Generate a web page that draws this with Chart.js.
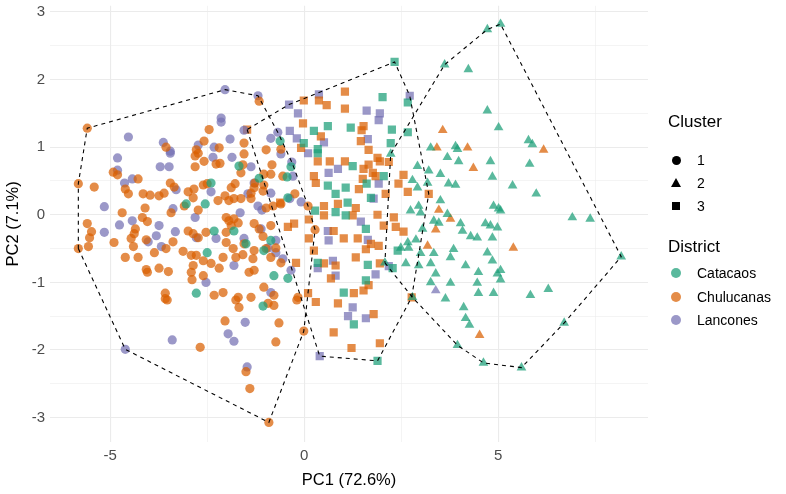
<!DOCTYPE html>
<html>
<head>
<meta charset="utf-8">
<script src="https://cdn.jsdelivr.net/npm/chart.js@4.4.1/dist/chart.umd.min.js"></script>
<style>
  html, body { margin: 0; padding: 0; background: #fff; }
  #wrap { position: relative; width: 786px; height: 494px; font-family: "Liberation Sans", Arial, sans-serif; }
  #chart { position: absolute; left: 0; top: 0; }
  .lg-title { position: absolute; left: 668px; font-size: 17px; color: #000; line-height: 20px; }
  .lg-item { position: absolute; left: 697px; font-size: 14px; color: #000; line-height: 16px; }
  .key { position: absolute; }
</style>
</head>
<body>
<div id="wrap">
  <canvas id="chart" width="786" height="494"></canvas>
  <div id="legend"></div>
</div>
<script>
// axis ticks
const xTicks = [-5, -2.5, 0, 2.5, 5, 7.5];
const xLabels = [-5, 0, 5];
const yTicks = [-3, -2.5, -2, -1.5, -1, -0.5, 0, 0.5, 1, 1.5, 2, 2.5, 3];
const yLabels = [-3, -2, -1, 0, 1, 2, 3];

const clusters = ['1', '2', '3'];
const districts = ['Catacaos', 'Chulucanas', 'Lancones'];

// [PC1, PC2] per cluster / district
const c1Catacaos = [[-0.62,1.09],[-3.04,0.16],[-2.78,-1.16],[-1.68,0.72],[-0.34,0.71],[-0.44,0.56],[-2.40,0.47],[-1.16,0.54],[-2.55,0.16],[-0.42,0.25],[-2.32,-0.24],[-1.81,-0.24],[-1.50,-0.43],[-2.50,-0.56],[-1.04,-0.53],[-0.86,-0.38],[-0.78,-0.90],[-0.42,-0.94],[-1.06,-1.35]];
const c1Chulucanas = [[-5.59,1.28],[-3.56,1.00],[-2.78,0.96],[-1.16,1.68],[-2.45,1.26],[-2.58,1.09],[-2.19,0.99],[-1.55,1.06],[-0.98,0.96],[-0.60,0.97],
  [-4.92,0.63],[-4.81,0.59],[-5.82,0.46],[-5.41,0.41],[-4.28,0.53],[-4.61,0.38],[-4.53,0.31],[-4.15,0.31],[-3.97,0.29],[-3.74,0.28],
  [-3.61,0.32],[-4.69,0.03],[-4.10,0.10],[-5.59,-0.13],[-5.48,-0.25],[-5.53,-0.34],[-5.56,-0.47],[-5.82,-0.50],[-4.90,-0.41],[-4.17,-0.04],
  [-4.04,-0.10],[-4.35,-0.21],[-4.38,-0.28],[-4.46,-0.35],[-4.40,-0.47],[-4.07,-0.37],[-3.56,-0.50],[-3.86,-0.56],[-3.38,-0.40],[-4.61,-0.63],
  [-4.28,-0.63],[-4.07,-0.81],[-4.04,-0.85],[-3.74,-0.79],[-3.50,-0.84],[-3.12,-0.54],[-3.58,-1.16],[-3.58,-1.24],[-2.89,-0.96],[-2.91,-0.85],
  [-2.86,-0.75],[-2.91,-0.60],[-2.78,-0.60],[-2.99,-0.24],[-2.86,-0.28],[-2.73,-0.34],[-3.45,0.47],[-3.35,0.41],[-3.43,0.03],[-3.09,0.13],
  [-2.86,0.25],[-2.99,0.34],[-2.84,0.38],[-2.81,0.87],[-2.73,0.91],[-2.81,0.71],[-2.73,0.07],
  [-2.58,0.79],[-2.27,0.75],[-2.17,0.76],[-1.55,0.90],[-1.58,0.74],[-1.63,0.62],[-0.83,0.74],[-1.04,0.60],[-0.86,0.60],[-0.55,0.57],
  [-2.50,0.46],[-2.60,0.44],[-1.88,0.40],[-1.78,0.46],[-1.27,0.47],[-1.04,0.44],[-1.06,0.35],[-1.29,0.40],[-1.37,0.32],
  [-2.22,0.21],[-2.04,0.28],[-1.94,0.21],[-1.81,0.24],[-1.63,0.24],[-1.37,0.24],[-0.98,0.10],[-0.80,0.13],[-0.60,0.16],[-0.24,0.31],
  [-2.01,-0.04],[-1.94,-0.09],[-1.81,-0.06],[-1.88,-0.16],[-1.70,-0.12],[-2.53,-0.26],[-2.01,-0.26],[-1.29,-0.13],[-1.16,-0.21],[-1.06,-0.32],
  [-0.86,-0.16],[-1.55,-0.43],[-2.01,-0.41],[-1.83,-0.50],[-2.60,-0.68],[-2.40,-0.72],[-2.09,-0.63],[-1.76,-0.63],[-1.58,-0.59],[-1.32,-0.65],
  [-1.29,-0.53],[-0.98,-0.50],[-0.73,-0.49],[-0.86,-0.63],[-0.60,-0.71],[-2.19,-0.79],[-1.42,-0.85],[-1.29,-0.82],[-1.04,-1.07],[-0.78,-1.19],
  [-2.32,-1.19],[-2.09,-1.15],[-1.70,-1.22],[-1.37,-1.22],[-2.60,-0.90],[-0.16,-1.22],[0.10,0.13],[0.28,-0.22],
  [-3.53,-1.26],[-2.68,-1.96],[-1.76,-1.26],[-1.68,-1.37],[-0.93,-1.31],[-0.78,-1.34],[-0.19,-1.26],[-2.04,-1.57],[-0.65,-1.60],[-0.73,-1.88],
  [-0.01,-1.72],[-1.50,-2.32],[-1.40,-2.57],[-0.91,-3.07]];
const c1Lancones = [[-4.53,1.15],[-3.63,1.07],[-3.45,0.94],[-2.73,1.03],[-2.04,1.85],[-1.19,1.76],[-2.14,1.43],[-2.14,1.37],[-1.91,1.12],[-2.32,1.00],
  [-1.55,1.25],[-0.86,1.13],[-0.68,1.22],[-4.81,0.84],[-4.81,0.66],[-4.43,0.53],[-4.63,0.47],[-5.15,0.12],[-4.76,-0.15],[-5.15,-0.26],
  [-4.43,-0.09],[-3.74,-0.16],[-3.81,-0.31],[-4.02,-0.40],[-3.68,-0.47],[-3.32,-0.25],[-3.30,0.37],[-3.38,0.09],[-3.71,0.71],[-3.48,0.71],
  [-3.45,0.91],[-2.78,-0.34],[-2.81,-0.04],
  [-2.35,0.85],[-1.86,0.85],[-1.37,0.71],[-0.60,0.90],[-0.32,0.78],[-0.29,0.57],[-2.40,0.34],[-1.29,0.47],[-0.86,0.32],[-1.45,0.31],
  [-1.19,0.13],[-1.09,0.07],[-1.65,0.03],[-0.37,0.24],[-0.08,0.19],[-2.27,-0.35],[-1.11,-0.21],[-1.55,-0.35],[-0.93,-0.49],[-0.73,-0.56],
  [-0.55,-0.65],[-0.73,-0.38],[-1.81,-0.75],[-0.34,-0.82],[-0.86,-1.15],[-2.53,-1.00],
  [-3.40,-1.85],[-4.61,-1.99],[-1.52,-1.59],[-1.96,-1.76],[-1.81,-1.87],[-1.47,-2.25]];

const c2Catacaos = [[3.62,2.22],[4.23,2.15],[4.72,2.74],[5.06,2.82],[4.72,1.54],[5.01,1.29],[3.26,0.99],[3.90,1.01],[3.95,0.97],[5.78,1.10],
  [5.88,1.04],[2.23,0.90],[2.92,0.72],[3.21,0.65],[3.51,0.60],[3.69,0.85],[3.98,0.79],[4.80,0.79],[4.85,0.56],[3.72,0.46],
  [3.90,0.44],[2.79,0.51],[2.92,0.40],[3.18,0.47],[3.51,0.21],[2.95,0.13],[3.00,0.03],[2.74,0.06],[3.69,0.01],[3.34,-0.09],
  [3.47,-0.12],[3.05,-0.21],[4.03,-0.13],[4.08,-0.24],[4.29,-0.32],[4.46,-0.34],[4.67,-0.13],[4.80,-0.16],[4.98,-0.19],[4.85,-0.34],
  [4.88,0.13],[5.01,0.09],[2.88,-0.37],[2.67,-0.41],[2.69,-0.49],[2.49,-0.49],[3.85,-0.51],[3.77,-0.63],[3.34,-0.57],[3.00,-0.57],
  [3.26,-0.72],[2.95,-0.75],[2.62,-0.72],[3.39,-0.87],[4.16,-0.75],[4.49,-0.85],[4.72,-0.56],[4.85,-0.68],[4.98,-0.87],[3.77,-1.01],
  [3.26,-1.00],[4.46,-1.01],[4.49,-1.16],[3.64,-1.24],[4.88,-1.16],[5.81,0.75],[5.37,0.43],[5.98,0.31],[5.06,0.06],[6.91,-0.04],
  [7.37,-0.06],[8.17,-0.62],[5.06,-0.82],[5.06,-0.96],[5.83,-1.19],[6.29,-1.10],[4.11,-1.37],[4.16,-1.53],[4.26,-1.63],[3.95,-1.93],
  [4.62,-2.19],[6.70,-1.60],[5.60,-2.26],[2.79,-1.22],[2.08,-0.71]];
const c2Chulucanas = [[3.57,1.25],[3.42,0.99],[4.21,0.99],[6.17,0.96],[4.36,0.69],[3.47,0.07],[3.77,-0.06],[3.39,-0.22],[3.18,-0.46],[5.39,-0.49],[4.52,-1.78]];
const c2Lancones = [[3.39,-1.12]];

const c3Catacaos = [[0.25,1.24],[0.61,1.31],[1.20,1.29],[-0.01,1.06],[0.35,0.97],[2.33,2.26],[2.02,1.74],[2.67,1.66],[2.26,1.26],[2.67,1.22],
  [2.23,1.06],[0.35,0.91],[0.61,0.43],[1.07,0.40],[0.81,0.31],[1.12,0.18],[0.28,0.06],[0.81,0.04],[1.07,-0.01],[1.02,-1.15],
  [0.35,-0.71],[1.25,0.72],[1.61,0.46],[2.05,0.57],[1.72,0.25],[1.59,-0.21],[2.41,-0.53],[1.64,-0.74],[2.28,-0.79],[1.59,-0.97],
  [1.28,-1.62],[1.89,-2.16]];
const c3Chulucanas = [[-0.01,1.69],[0.38,1.69],[0.58,1.62],[1.05,1.82],[1.05,1.57],[-0.03,1.35],[-1.47,1.26],[0.43,1.16],[-0.08,0.99],[1.53,1.31],
  [1.48,1.25],[1.46,1.09],[1.66,0.96],[0.35,0.79],[0.66,0.79],[1.05,0.79],[0.25,0.57],[0.30,0.47],[0.51,0.13],[0.87,0.16],
  [0.51,-0.01],[-0.62,0.18],[-0.26,-0.13],[-0.42,-0.18],[0.12,-0.35],[0.12,-0.07],[0.25,-0.53],[-0.21,-0.71],[1.02,-0.35],[0.76,-0.24],
  [0.81,-0.75],[0.51,-0.72],[0.69,-0.94],[0.10,-1.16],[1.53,0.68],[1.66,0.74],[1.77,0.62],[1.84,0.57],[1.95,0.79],[2.18,0.78],
  [1.89,0.84],[1.41,0.38],[1.51,0.53],[2.43,0.46],[2.56,0.59],[2.67,0.34],[2.10,0.31],[2.31,-0.04],[2.36,-0.18],[2.56,-0.25],
  [1.89,0.00],[2.05,-0.16],[1.33,0.10],[1.25,-0.01],[1.38,-0.35],[1.59,-0.51],[1.72,-0.43],[1.92,-0.46],[1.33,-0.63],[1.95,-0.72],
  [1.66,-1.04],[1.53,-1.12],[1.28,-1.16],[2.77,-1.22],[3.21,0.31],[1.79,-1.47],[1.95,-1.90],[0.30,-1.29],[0.87,-1.31],[0.76,-1.74],
  [1.22,-1.97]];
const c3Lancones = [[-0.39,1.63],[0.38,1.78],[-0.16,1.50],[-0.37,1.24],[-0.19,1.13],[0.51,1.07],[2.72,1.76],[1.61,1.54],[1.95,1.50],[1.92,1.40],
  [1.64,1.12],[0.10,0.91],[0.63,0.62],[0.87,0.68],[0.61,-0.24],[0.63,-0.38],[0.74,-0.68],[0.35,-0.79],[0.81,-0.90],[1.79,0.24],
  [1.92,0.46],[1.46,-0.10],[1.64,-0.37],[2.18,-0.76],[1.84,-0.88],[1.25,-1.37],[1.59,-1.53],[1.13,-1.50],[0.40,-2.09]];

const groups = [
  { cluster: '1', district: 'Catacaos', pts: c1Catacaos },
  { cluster: '1', district: 'Chulucanas', pts: c1Chulucanas },
  { cluster: '1', district: 'Lancones', pts: c1Lancones },
  { cluster: '2', district: 'Catacaos', pts: c2Catacaos },
  { cluster: '2', district: 'Chulucanas', pts: c2Chulucanas },
  { cluster: '2', district: 'Lancones', pts: c2Lancones },
  { cluster: '3', district: 'Catacaos', pts: c3Catacaos },
  { cluster: '3', district: 'Chulucanas', pts: c3Chulucanas },
  { cluster: '3', district: 'Lancones', pts: c3Lancones },
];

const fills = { Catacaos: 'rgba(27,158,119,0.72)', Chulucanas: 'rgba(217,95,2,0.72)', Lancones: 'rgba(117,112,179,0.72)' };
const shapes = { '1': 'circle', '2': 'triangle', '3': 'rect' };
const sizes = { '1': 4.6, '2': 5.6, '3': 5.8 };

// convex hull (monotone chain)
function hull(points) {
  const p = points.slice().sort((a, b) => a[0] - b[0] || a[1] - b[1]);
  const cross = (o, a, b) => (a[0] - o[0]) * (b[1] - o[1]) - (a[1] - o[1]) * (b[0] - o[0]);
  const lower = [];
  for (const q of p) {
    while (lower.length >= 2 && cross(lower[lower.length - 2], lower[lower.length - 1], q) <= 0) lower.pop();
    lower.push(q);
  }
  const upper = [];
  for (const q of p.slice().reverse()) {
    while (upper.length >= 2 && cross(upper[upper.length - 2], upper[upper.length - 1], q) <= 0) upper.pop();
    upper.push(q);
  }
  upper.pop();
  lower.pop();
  const h = lower.concat(upper);
  h.push(h[0]);
  return h;
}

const datasets = [];

// hull outlines first so they sit on top
clusters.forEach(c => {
  const pts = groups.filter(g => g.cluster === c).flatMap(g => g.pts);
  datasets.push({
    data: hull(pts).map(([x, y]) => ({ x, y })),
    showLine: true,
    borderColor: '#000',
    borderWidth: 1.1,
    borderDash: [4, 4],
    pointRadius: 0,
    fill: false,
  });
});

groups.forEach(g => {
  datasets.push({
    data: g.pts.map(([x, y]) => ({ x, y })),
    pointStyle: shapes[g.cluster],
    pointRadius: sizes[g.cluster],
    backgroundColor: fills[g.district],
    borderWidth: 0,
  });
});

const gridWidth = ctx => (ctx.tick && Math.abs(ctx.tick.value % 1) < 1e-9 && (ctx.scale.axis === 'y' || ctx.tick.value % 5 === 0)) ? 1.1 : 0.55;

new Chart(document.getElementById('chart'), {
  type: 'scatter',
  data: { datasets },
  options: {
    responsive: false,
    animation: false,
    layout: { padding: { left: 0, right: 138, top: 4, bottom: 0 } },
    plugins: { legend: { display: false }, tooltip: { enabled: false } },
    scales: {
      x: {
        type: 'linear',
        min: -6.55,
        max: 8.86,
        bounds: 'data',
        afterBuildTicks: s => { s.ticks = xTicks.map(v => ({ value: v })); },
        afterFit: s => { s.height = 52; s.paddingLeft = 0; s.paddingRight = 0; },
        ticks: {
          callback: v => xLabels.includes(v) ? String(v) : '',
          color: '#4d4d4d',
          font: { family: '"Liberation Sans", Arial, sans-serif', size: 15 },
          padding: 5,
          maxRotation: 0,
          autoSkip: false,
        },
        grid: { color: '#ebebeb', lineWidth: gridWidth, drawTicks: false },
        border: { display: false },
        title: {
          display: true,
          text: 'PC1 (72.6%)',
          color: '#000',
          font: { family: '"Liberation Sans", Arial, sans-serif', size: 16.5 },
          padding: { top: 2, bottom: 4 },
        },
      },
      y: {
        type: 'linear',
        min: -3.36,
        max: 3.09,
        bounds: 'data',
        afterBuildTicks: s => { s.ticks = yTicks.map(v => ({ value: v })); },
        afterFit: s => { s.width = 50; s.paddingTop = 0; s.paddingBottom = 0; },
        ticks: {
          callback: v => yLabels.includes(v) ? String(v) : '',
          color: '#4d4d4d',
          font: { family: '"Liberation Sans", Arial, sans-serif', size: 15 },
          padding: 5,
          autoSkip: false,
        },
        grid: { color: '#ebebeb', lineWidth: gridWidth, drawTicks: false },
        border: { display: false },
        title: {
          display: true,
          text: 'PC2 (7.1%)',
          color: '#000',
          font: { family: '"Liberation Sans", Arial, sans-serif', size: 16.5 },
          padding: { top: 4, bottom: 2 },
        },
      },
    },
  },
});

// legend
const legend = document.getElementById('legend');
function add(html) { legend.insertAdjacentHTML('beforeend', html); }
add('<div class="lg-title" style="top:112px">Cluster</div>');
const clusterKeys = {
  '1': 'width:9px;height:9px;border-radius:50%;background:#000;',
  '2': 'width:0;height:0;border-left:5.5px solid transparent;border-right:5.5px solid transparent;border-bottom:9px solid #000;',
  '3': 'width:8px;height:8px;background:#000;',
};
const clusterKeyOffsets = { '1': [-4.5, -4.5], '2': [-5.5, -5], '3': [-4, -4] };
clusters.forEach((c, i) => {
  const cy = 160 + i * 23;
  const [dx, dy] = clusterKeyOffsets[c];
  add(`<div class="key" style="left:${676 + dx}px;top:${cy + dy}px;${clusterKeys[c]}"></div>`);
  add(`<div class="lg-item" style="top:${cy - 8}px">${c}</div>`);
});
add('<div class="lg-title" style="top:237px">District</div>');
districts.forEach((d, i) => {
  const cy = 273 + i * 23.5;
  add(`<div class="key" style="left:671px;top:${cy - 5}px;width:10px;height:10px;border-radius:50%;background:${fills[d]}"></div>`);
  add(`<div class="lg-item" style="top:${cy - 8}px">${d}</div>`);
});
</script>
</body>
</html>
